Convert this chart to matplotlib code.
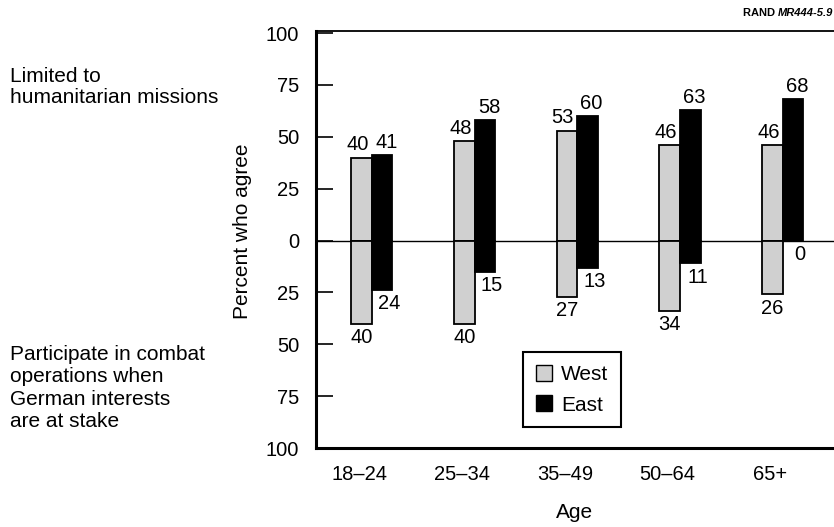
import numpy as np
import matplotlib.pyplot as plt
from matplotlib.patches import Patch

plt.rcParams['font.family'] = ['Liberation Sans', 'DejaVu Sans']

# data
ages = ['18–24', '25–34', '35–49', '50–64', '65+']
west_humanitarian = [40, 48, 53, 46, 46]
east_humanitarian = [41, 58, 60, 63, 68]
west_combat = [40, 40, 27, 34, 26]
east_combat = [24, 15, 13, 11, 0]

x = np.arange(len(ages))
w = 0.2
fs = 14.5

fig = plt.figure(figsize=(8.34, 5.27), dpi=100)
ax = fig.add_axes([0.3789, 0.1499, 0.6211, 0.7913])

west_kw = dict(color='#d0d0d0', edgecolor='black', linewidth=1.3)
east_kw = dict(color='black', edgecolor='black', linewidth=1.3)

ax.bar(x - w / 2, west_humanitarian, w, **west_kw, zorder=3)
ax.bar(x - w / 2, -np.array(west_combat), w, **west_kw, zorder=3)
ax.bar(x + w / 2, east_humanitarian, w, **east_kw, zorder=3)
ax.bar(x + w / 2, -np.array(east_combat), w, **east_kw, zorder=3)

# value labels
for i in range(len(ages)):
    ax.text(x[i] - w / 2 - 0.04, west_humanitarian[i] + 1.5, str(west_humanitarian[i]),
            ha='center', va='bottom', fontsize=fs)
    ax.text(x[i] + w / 2 + 0.04, east_humanitarian[i] + 1.5, str(east_humanitarian[i]),
            ha='center', va='bottom', fontsize=fs)
    ax.text(x[i] - w / 2, -west_combat[i] - 2, str(west_combat[i]),
            ha='center', va='top', fontsize=fs)
    ax.text(x[i] + w / 2 + 0.07, -east_combat[i] - 2, str(east_combat[i]),
            ha='center', va='top', fontsize=fs)

ax.axhline(0, color='black', linewidth=1.0, zorder=2)

ax.set_xlim(-0.545, 4.50)
ax.set_ylim(-100, 101)
ax.set_yticks([100, 75, 50, 25, 0, -25, -50, -75, -100])
ax.set_yticklabels(['100', '75', '50', '25', '0', '25', '50', '75', '100'])
ax.set_xticks(x - 0.12)
ax.set_xticklabels(ages)
ax.tick_params(axis='y', direction='in', length=12, width=1.2, labelsize=fs, pad=12)
ax.tick_params(axis='x', length=0, labelsize=fs, pad=12)

for s in ['left', 'bottom']:
    ax.spines[s].set_linewidth(2.2)
ax.spines['top'].set_linewidth(1.3)
ax.spines['right'].set_visible(False)

ax.set_ylabel('Percent who agree', fontsize=15)
ax.yaxis.set_label_coords(-0.124, 0.52)
ax.set_xlabel('Age', fontsize=15, labelpad=14)

legend_handles = [Patch(facecolor='#d0d0d0', edgecolor='black', label='West'),
                  Patch(facecolor='black', edgecolor='black', label='East')]
leg = ax.legend(handles=legend_handles, loc='center', bbox_to_anchor=(0.494, 0.14),
                fontsize=15, fancybox=False, framealpha=1, edgecolor='black',
                handlelength=0.8, handleheight=0.8, handletextpad=0.4,
                borderpad=0.6, labelspacing=0.55)
leg.get_frame().set_linewidth(1.5)

fig.text(0.012, 0.835, 'Limited to\nhumanitarian missions', fontsize=15,
         va='center', ha='left', linespacing=1.1)
fig.text(0.012, 0.264, 'Participate in combat\noperations when\nGerman interests\nare at stake',
         fontsize=15, va='center', ha='left', linespacing=1.22)

t = fig.text(0.999, 0.975, 'MR444-5.9', fontsize=8, ha='right', va='center',
             fontweight='bold', fontstyle='italic')
ax.annotate('RAND ', xy=(0, 0.5), xycoords=t, ha='right', va='center',
            fontsize=8, fontweight='bold')

fig.savefig('out.png', dpi=100)
